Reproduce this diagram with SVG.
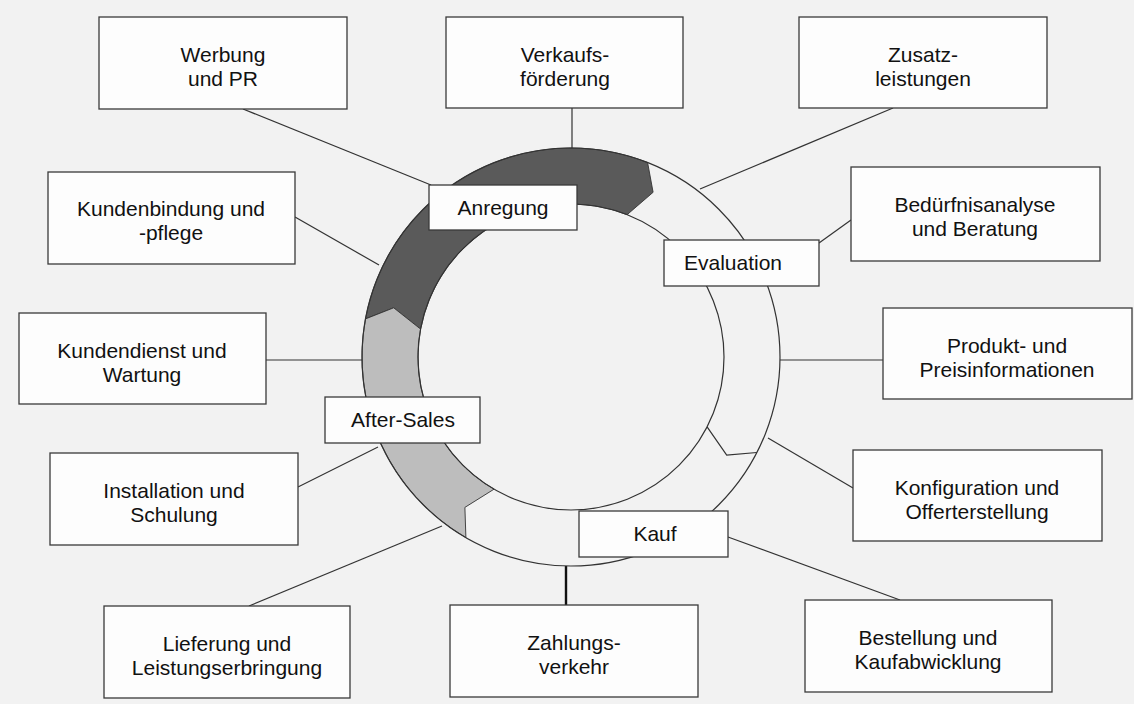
<svg xmlns="http://www.w3.org/2000/svg" width="1134" height="704" viewBox="0 0 1134 704">
<style>
.bg{fill:#f2f2f2}
.box{fill:#fdfdfd;stroke:#3a3a3a;stroke-width:1.3}
.t{font-family:"Liberation Sans",Arial,sans-serif;font-size:21px;fill:#111;text-anchor:middle}
.c{stroke:#333;stroke-width:1.2;fill:none}
.ring{fill:none;stroke:#333;stroke-width:1.2}
.seg{stroke:#333;stroke-width:0.9}
</style>
<rect class="bg" x="0" y="0" width="1134" height="704"/>
<g id="connectors">
<line class="c" x1="243" y1="109" x2="431" y2="185"/>
<line class="c" x1="572" y1="108" x2="572" y2="148"/>
<line class="c" x1="893" y1="108" x2="700" y2="189"/>
<line class="c" x1="851" y1="220" x2="819" y2="243"/>
<line class="c" x1="780" y1="360" x2="883" y2="360"/>
<line class="c" x1="768" y1="438" x2="853" y2="488"/>
<line class="c" x1="728" y1="537" x2="900" y2="600"/>
<line x1="566" y1="566" x2="566" y2="605" stroke="#111" stroke-width="2.4"/>
<line class="c" x1="249" y1="606" x2="442" y2="526"/>
<line class="c" x1="298" y1="487" x2="378" y2="447"/>
<line class="c" x1="266" y1="360" x2="362" y2="360"/>
<line class="c" x1="295" y1="217" x2="379" y2="265"/>
</g>
<g id="ring">
<path class="seg" fill="#5a5a5a" d="M365.5,318.9 A209,209 0 0 1 647.6,162.5 L653.1,192.3 L627.1,214.7 A153,153 0 0 0 420.6,329.1 L393.7,307.8 Z"/>
<path class="seg" fill="#bdbdbd" d="M465.9,537.6 A209,209 0 0 1 365.5,318.9 L393.7,307.8 L420.6,329.1 A153,153 0 0 0 494.0,489.2 L464.9,507.4 Z"/>
<polyline class="c" points="707.1,426.9 726.7,455.1 756.9,452.5"/>
<circle class="ring" cx="571" cy="357" r="209"/>
<circle class="ring" cx="571" cy="357" r="153"/>
</g>
<g id="anregung"><rect class="box" x="429" y="185" width="148" height="45"/><text class="t" x="503" y="215">Anregung</text></g>
<g id="evaluation"><rect class="box" x="664" y="240" width="155" height="46"/><text class="t" x="733" y="270">Evaluation</text></g>
<g id="after-sales"><rect class="box" x="325" y="397" width="155" height="46"/><text class="t" x="403" y="427">After-Sales</text></g>
<g id="kauf"><rect class="box" x="579" y="511" width="149" height="46"/><text class="t" x="655" y="541">Kauf</text></g>
<g id="werbung"><rect class="box" x="99" y="17" width="248" height="92"/><text class="t" x="223" y="62">Werbung</text><text class="t" x="223" y="86">und PR</text></g>
<g id="verkaufsfoerderung"><rect class="box" x="446" y="17" width="237" height="91"/><text class="t" x="565" y="62">Verkaufs-</text><text class="t" x="565" y="86">förderung</text></g>
<g id="zusatzleistungen"><rect class="box" x="799" y="17" width="248" height="91"/><text class="t" x="923" y="62">Zusatz-</text><text class="t" x="923" y="86">leistungen</text></g>
<g id="kundenbindung"><rect class="box" x="48" y="172" width="247" height="92"/><text class="t" x="171" y="216">Kundenbindung und</text><text class="t" x="171" y="240">-pflege</text></g>
<g id="beduerfnisanalyse"><rect class="box" x="851" y="167" width="249" height="94"/><text class="t" x="975" y="212">Bedürfnisanalyse</text><text class="t" x="975" y="236">und Beratung</text></g>
<g id="kundendienst"><rect class="box" x="19" y="313" width="247" height="91"/><text class="t" x="142" y="358">Kundendienst und</text><text class="t" x="142" y="382">Wartung</text></g>
<g id="produkt"><rect class="box" x="883" y="308" width="249" height="91"/><text class="t" x="1007" y="353">Produkt- und</text><text class="t" x="1007" y="377">Preisinformationen</text></g>
<g id="installation"><rect class="box" x="50" y="453" width="248" height="92"/><text class="t" x="174" y="498">Installation und</text><text class="t" x="174" y="522">Schulung</text></g>
<g id="konfiguration"><rect class="box" x="853" y="450" width="249" height="91"/><text class="t" x="977" y="495">Konfiguration und</text><text class="t" x="977" y="519">Offerterstellung</text></g>
<g id="lieferung"><rect class="box" x="104" y="606" width="246" height="92"/><text class="t" x="227" y="651">Lieferung und</text><text class="t" x="227" y="675">Leistungserbringung</text></g>
<g id="zahlungsverkehr"><rect class="box" x="450" y="605" width="248" height="92"/><text class="t" x="574" y="650">Zahlungs-</text><text class="t" x="574" y="674">verkehr</text></g>
<g id="bestellung"><rect class="box" x="805" y="600" width="247" height="92"/><text class="t" x="928" y="645">Bestellung und</text><text class="t" x="928" y="669">Kaufabwicklung</text></g>
</svg>
